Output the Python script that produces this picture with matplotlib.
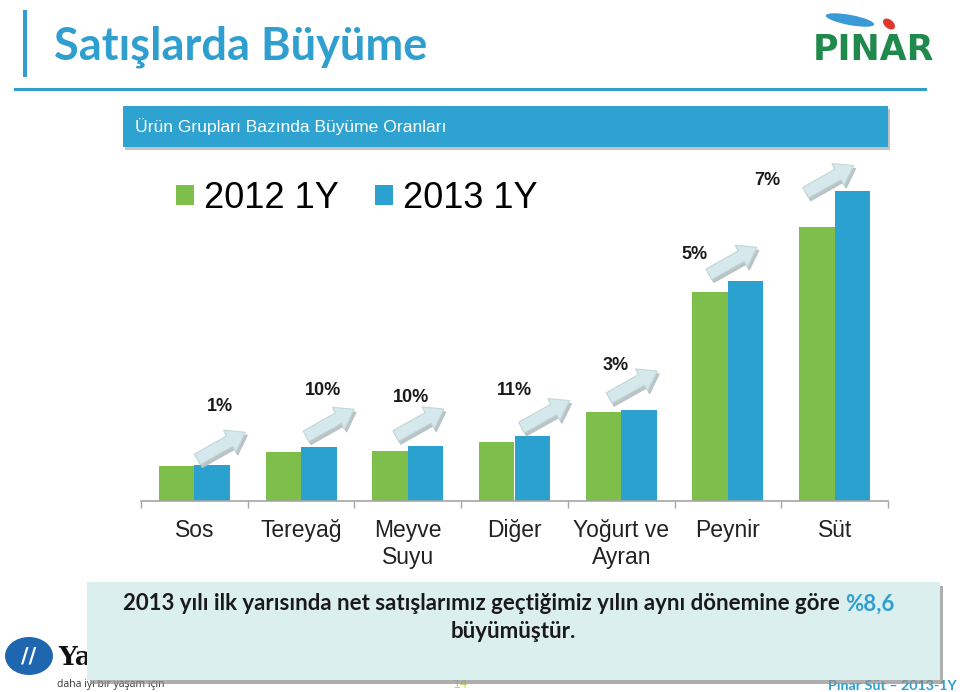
import numpy as np
import matplotlib.pyplot as plt
from matplotlib.patches import Rectangle, FancyArrow, Ellipse
from matplotlib.transforms import IdentityTransform

# DATA #
categories = ['Sos', 'Tereyağ', 'Meyve\nSuyu', 'Diğer', 'Yoğurt ve\nAyran', 'Peynir', 'Süt']
sales_2012 = [35.4, 48.7, 50.4, 59.4, 88.7, 209.4, 273.7]
sales_2013 = [35.7, 53.7, 55.0, 65.4, 91.0, 219.7, 310.4]
growth_labels = ['1%', '10%', '10%', '11%', '3%', '5%', '7%']
series_names = ['2012 1Y', '2013 1Y']

# placement of growth labels / arrows, pixels relative to top of the 2013 bar
label_off = [(26, 59), (22, 57), (3, 48), (0, 45), (-6, 44), (-33, 27), (-67, 10)]
arrow_off = [(3, 6), (5, 11), (-12, 10), (7, 8), (-12, 12), (-19, 7), (-29, -2)]

# STYLE #
W, H = 960, 692
GREEN = '#7dbf4a'
BLUE = '#2ba1cf'
TITLE_BLUE = '#2f9fd0'


def fx(x):
    return x / W


def fy(y):
    return 1 - y / H


fig = plt.figure(figsize=(W / 100, H / 100), dpi=100)

# header
fig.add_artist(Rectangle((fx(23), fy(77)), fx(4), 67 / H, transform=fig.transFigure,
                         color=TITLE_BLUE, lw=0))
fig.text(fx(54), fy(47), 'Satışlarda Büyüme', fontsize=32.5, fontweight='bold',
         family='Lato', color=TITLE_BLUE, va='center', ha='left')
fig.add_artist(Rectangle((fx(14), fy(90.5)), fx(913), 3 / H, transform=fig.transFigure,
                         color=TITLE_BLUE, lw=0))
fig.text(fx(873), fy(50), 'PINAR', fontsize=25, fontweight='heavy', family='DejaVu Sans',
         color='#1f8a4c', va='center', ha='center')
fig.add_artist(Ellipse((fx(850), fy(20)), fx(50), 10 / H, angle=-15,
                       transform=fig.transFigure, color='#3a9ad6', lw=0))
fig.add_artist(Ellipse((fx(889), fy(24)), fx(10), 12 / H, angle=30,
                       transform=fig.transFigure, color='#e0382d', lw=0))

# banner
fig.add_artist(Rectangle((fx(125), fy(150)), fx(765), 41 / H, transform=fig.transFigure,
                         color='#9a9a9a', lw=0, alpha=0.6))
fig.add_artist(Rectangle((fx(123), fy(147)), fx(765), 41 / H, transform=fig.transFigure,
                         color='#2ea3d1', lw=0))
fig.text(fx(135), fy(127), 'Ürün Grupları Bazında Büyüme Oranları', fontsize=12.6,
         family='Liberation Sans', color='white', va='center', ha='left')

# CHART #
ax = fig.add_axes([fx(141), fy(501), fx(747), 340 / H])
x = np.arange(len(categories))
bw = 0.333
b1 = ax.bar(x - bw / 2, sales_2012, bw, color=GREEN, label=series_names[0])
b2 = ax.bar(x + bw / 2, sales_2013, bw, color=BLUE, label=series_names[1])
ax.set_xlim(-0.5, len(categories) - 0.5)
ax.set_ylim(0, 340)
for s in ['top', 'right', 'left']:
    ax.spines[s].set_visible(False)
ax.spines['bottom'].set_color('#a6a6a6')
ax.spines['bottom'].set_linewidth(1.2)
ax.set_yticks([])
ax.set_xticks(x, categories, fontsize=16.5, family='Liberation Sans', color='#222222')
ax.set_xticks(np.arange(-0.5, len(categories)), minor=True)
ax.tick_params(axis='x', which='major', length=0, pad=13)
ax.tick_params(axis='x', which='minor', length=5, color='#a6a6a6', width=1)

ax.legend(handles=[b1, b2], loc='upper left', bbox_to_anchor=(fx(176), fy(181)),
          bbox_transform=fig.transFigure, ncol=2, frameon=False,
          prop={'family': 'Liberation Sans', 'size': 26},
          handlelength=0.5, handleheight=0.5, handletextpad=0.28,
          columnspacing=1.0, borderpad=0, borderaxespad=0)

# arrows and growth labels
fig.canvas.draw()
for i in range(len(categories)):
    px, py = ax.transData.transform((x[i], sales_2013[i]))
    tx, ty = px + arrow_off[i][0], py + arrow_off[i][1]
    for dx, dy, col, z in [(2, -3, '#b9c4c6', 3), (0, 0, '#d5e9ec', 4)]:
        arr = FancyArrow(tx + dx, ty + dy, 48, 27, width=12, head_width=25, head_length=18,
                         length_includes_head=True, transform=IdentityTransform(),
                         facecolor=col, edgecolor='#c3d6d9' if z == 4 else col, lw=0.8,
                         zorder=z)
        fig.add_artist(arr)
    ax.annotate(growth_labels[i], (x[i], sales_2013[i]), xytext=label_off[i],
                textcoords='offset pixels', ha='center', va='center', fontsize=13,
                fontweight='bold', family='Liberation Sans', color='#1a1a1a',
                annotation_clip=False)

# footer: logo behind the message box
fig.add_artist(Ellipse((fx(29), fy(656)), fx(48), 38 / H, transform=fig.transFigure,
                       color='#1f66b1', lw=0))
fig.text(fx(29), fy(656), '//', fontsize=15, fontweight='bold', color='white',
         ha='center', va='center', family='DejaVu Sans')
fig.text(fx(58), fy(657), 'Yaşar', fontsize=19, fontweight='bold', color='#111111',
         ha='left', va='center', family='DejaVu Serif')
fig.text(fx(57), fy(685), 'daha iyi bir yaşam için', fontsize=7.5, color='#333333',
         ha='left', va='center', family='Open Sans')
fig.text(fx(461), fy(684), '14', fontsize=9.5, color='#c3cf5a', ha='center', va='center',
         family='Lato')
fig.text(fx(957), fy(686), 'Pınar Süt – 2013-1Y', fontsize=10.3, color=TITLE_BLUE,
         fontweight='bold', ha='right', va='center', family='Lato')

fig.add_artist(Rectangle((fx(90), fy(684)), fx(853), 98 / H, transform=fig.transFigure,
                         color='#8c8c8c', lw=0, alpha=0.7, zorder=5))
fig.add_artist(Rectangle((fx(87), fy(680)), fx(853), 98 / H, transform=fig.transFigure,
                         color='#dcefef', lw=0, zorder=6))
msg = '2013 yılı ilk yarısında net satışlarımız geçtiğimiz yılın aynı dönemine göre '
t1 = fig.text(fx(123), fy(604), msg, fontsize=16, fontweight='bold', family='Lato',
              color='#1a1a1a', ha='left', va='center', zorder=7)
fig.canvas.draw()
bb = t1.get_window_extent()
fig.text(bb.x1 / W, fy(604), '%8,6', fontsize=16, fontweight='bold', family='Lato',
         color=TITLE_BLUE, ha='left', va='center', zorder=7)
fig.text(fx(513), fy(631), 'büyümüştür.', fontsize=16, fontweight='bold', family='Lato',
         color='#1a1a1a', ha='center', va='center', zorder=7)

fig.savefig('out.png', dpi=100)
